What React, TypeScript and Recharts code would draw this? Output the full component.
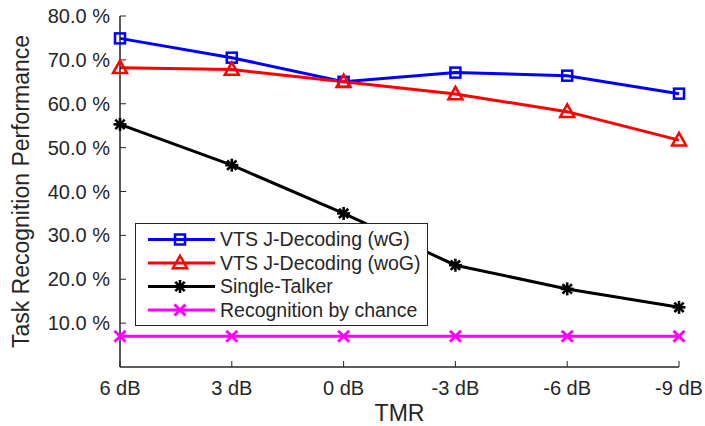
import React from 'react';
import { LineChart, Line, XAxis, YAxis } from 'recharts';

const categories = ['6 dB', '3 dB', '0 dB', '-3 dB', '-6 dB', '-9 dB'];
const wG = [74.9, 70.5, 65.0, 67.1, 66.4, 62.3];
const woG = [68.2, 67.8, 65.0, 62.2, 58.2, 51.7];
const singleTalker = [55.3, 46.0, 35.0, 23.2, 17.8, 13.6];
const chance = [7.0, 7.0, 7.0, 7.0, 7.0, 7.0];
const yTicks = [10, 20, 30, 40, 50, 60, 70, 80];

const data = categories.map((c, i) => ({
  tmr: c,
  wG: wG[i],
  woG: woG[i],
  single: singleTalker[i],
  chance: chance[i],
}));

const FONT = '"Liberation Sans", Arial, Helvetica, sans-serif';
const AX = '#262626';

type MarkerKind = 'square' | 'triangle' | 'asterisk' | 'x';

const series: { key: string; name: string; color: string; marker: MarkerKind }[] = [
  { key: 'wG', name: 'VTS J-Decoding (wG)', color: '#0000FF', marker: 'square' },
  { key: 'woG', name: 'VTS J-Decoding (woG)', color: '#FF0000', marker: 'triangle' },
  { key: 'single', name: 'Single-Talker', color: '#000000', marker: 'asterisk' },
  { key: 'chance', name: 'Recognition by chance', color: '#FF00FF', marker: 'x' },
];

function Marker({ kind, cx, cy, color }: { kind: MarkerKind; cx: number; cy: number; color: string }) {
  if (cx == null || cy == null || isNaN(cx) || isNaN(cy)) return <g />;
  if (kind === 'square') {
    return <rect x={cx - 5} y={cy - 5} width={10} height={10} fill="none" stroke={color} strokeWidth={2.5} />;
  }
  if (kind === 'triangle') {
    const h = 12.5;
    const w = 14;
    return (
      <polygon
        points={`${cx},${cy - h / 2 - 1} ${cx - w / 2},${cy + h / 2 - 1} ${cx + w / 2},${cy + h / 2 - 1}`}
        fill="none"
        stroke={color}
        strokeWidth={2.5}
        strokeLinejoin="miter"
      />
    );
  }
  if (kind === 'asterisk') {
    const r = 6.5;
    const d = r * 0.72;
    return (
      <g stroke={color} strokeWidth={2.6}>
        <line x1={cx} y1={cy - r} x2={cx} y2={cy + r} />
        <line x1={cx - r} y1={cy} x2={cx + r} y2={cy} />
        <line x1={cx - d} y1={cy - d} x2={cx + d} y2={cy + d} />
        <line x1={cx - d} y1={cy + d} x2={cx + d} y2={cy - d} />
      </g>
    );
  }
  const r = 5.5;
  return (
    <g stroke={color} strokeWidth={3}>
      <line x1={cx - r} y1={cy - r} x2={cx + r} y2={cy + r} />
      <line x1={cx - r} y1={cy + r} x2={cx + r} y2={cy - r} />
    </g>
  );
}

function LegendBox() {
  const rowH = 23.5;
  return (
    <svg width={294} height={104} style={{ display: 'block' }}>
      <rect x={0.5} y={0.5} width={292} height={102} fill="#fff" stroke={AX} strokeWidth={1} />
      {series.map((s, i) => {
        const cy = 16.5 + i * rowH;
        return (
          <g key={s.key}>
            <line x1={13} y1={cy} x2={80} y2={cy} stroke={s.color} strokeWidth={3} />
            <Marker kind={s.marker} cx={45} cy={cy} color={s.color} />
            <text x={85} y={cy} dy="0.35em" fontSize={19.5} fontFamily={FONT} fill={AX}>
              {s.name}
            </text>
          </g>
        );
      })}
    </svg>
  );
}

export default function App() {
  return (
    <div style={{ position: 'fixed', left: 0, top: 0, width: 705, height: 426, background: '#fff' }}>
      <LineChart width={705} height={426} data={data} margin={{ top: 16, right: 26, bottom: 0, left: 0 }}>
        <XAxis
          dataKey="tmr"
          type="category"
          height={59}
          stroke={AX}
          strokeWidth={1.5}
          tickSize={-6}
          tickMargin={20}
          tickLine={{ stroke: AX, strokeWidth: 1 }}
          tick={{ fontSize: 20, fontFamily: FONT, fill: AX }}
          interval={0}
          label={{
            content: (p: any) => {
              const vb = p.viewBox || {};
              return (
                <text x={vb.x + vb.width / 2} y={421} textAnchor="middle" fontSize={23} fontFamily={FONT} fill={AX}>
                  TMR
                </text>
              );
            },
          }}
        />
        <XAxis
          xAxisId="top"
          dataKey="tmr"
          type="category"
          orientation="top"
          height={0}
          stroke={AX}
          strokeWidth={1.5}
          tickSize={-6}
          tickLine={{ stroke: AX, strokeWidth: 1 }}
          tick={false}
          interval={0}
        />
        <YAxis
          type="number"
          domain={[0, 80]}
          ticks={yTicks}
          width={120}
          stroke={AX}
          strokeWidth={1.5}
          tickSize={-6}
          tickMargin={16}
          tickLine={{ stroke: AX, strokeWidth: 1 }}
          tick={{ fontSize: 20, fontFamily: FONT, fill: AX }}
          tickFormatter={(v: number) => `${v.toFixed(1)} %`}
          label={{
            content: (p: any) => {
              const vb = p.viewBox || {};
              const cy = vb.y + vb.height / 2;
              return (
                <text
                  x={28.5}
                  y={cy}
                  transform={`rotate(-90, 28.5, ${cy})`}
                  textAnchor="middle"
                  fontSize={23}
                  fontFamily={FONT}
                  fill={AX}
                >
                  Task Recognition Performance
                </text>
              );
            },
          }}
        />
        <YAxis
          yAxisId="right"
          orientation="right"
          type="number"
          domain={[0, 80]}
          ticks={yTicks}
          width={0}
          stroke={AX}
          strokeWidth={1.5}
          tickSize={-6}
          tickLine={{ stroke: AX, strokeWidth: 1 }}
          tick={false}
        />
        {series.map((s) => (
          <Line
            key={s.key}
            dataKey={s.key}
            name={s.name}
            stroke={s.color}
            strokeWidth={3}
            isAnimationActive={false}
            dot={(p: any) => <Marker key={`${s.key}-${p.index}`} kind={s.marker} cx={p.cx} cy={p.cy} color={s.color} />}
            activeDot={false}
          />
        ))}
      </LineChart>
      <div style={{ position: 'absolute', left: 135, top: 223 }}>
        <LegendBox />
      </div>
    </div>
  );
}
